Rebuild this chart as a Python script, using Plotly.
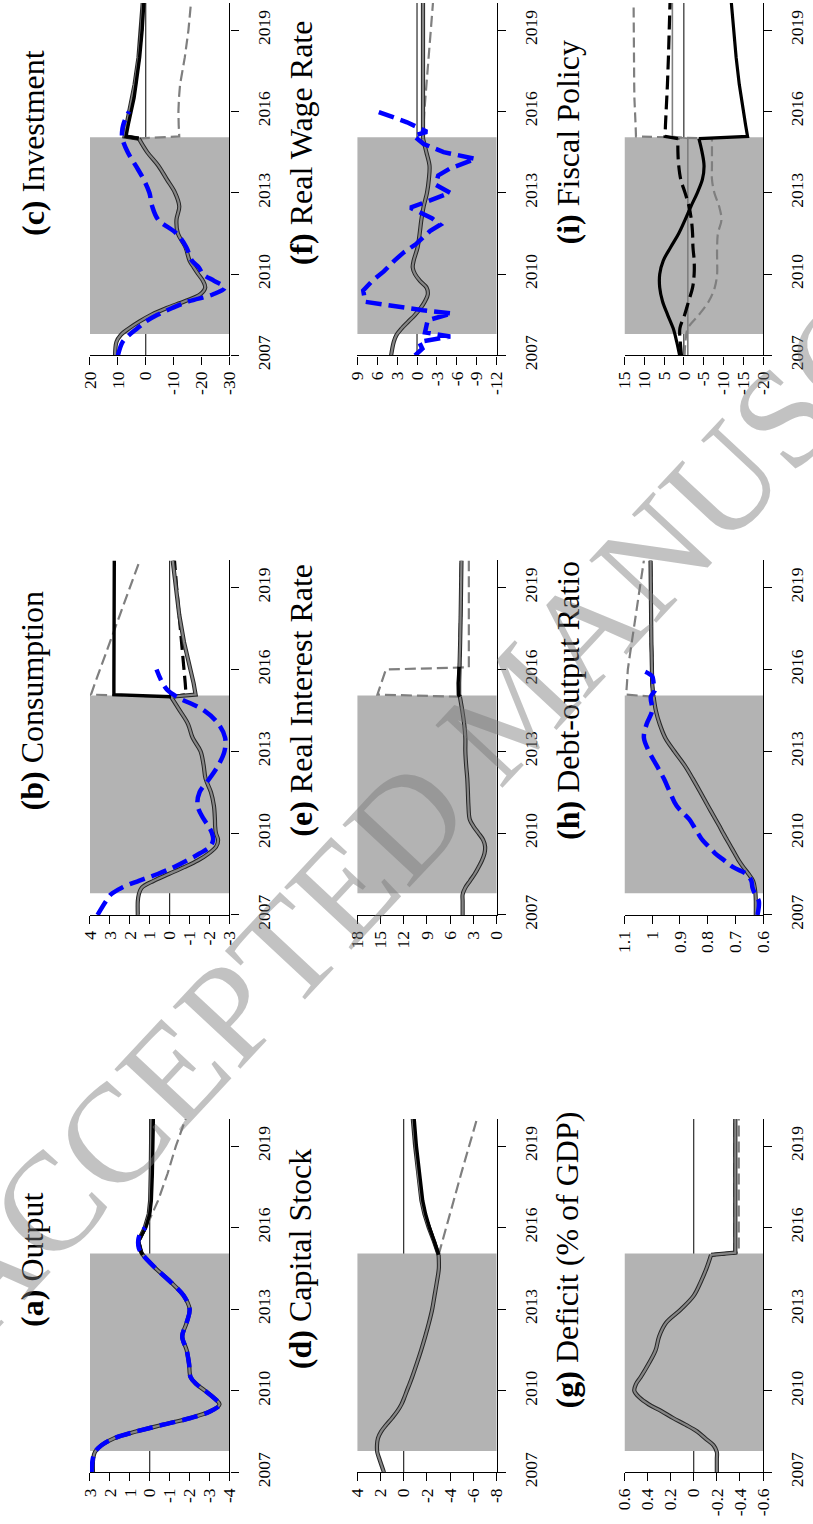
import plotly.graph_objects as go

W, H = 813, 1524

# ---------------- time grids (years) ----------------
t_hist = [2007.0, 2007.5, 2007.75, 2008.0, 2008.25, 2008.5, 2008.75, 2009.0, 2009.25, 2009.5,
          2009.75, 2010.0, 2010.25, 2010.5, 2011.0, 2011.5, 2012.0, 2012.5, 2013.0, 2013.5,
          2014.0, 2014.5, 2015.0]
t_data = t_hist + [2015.25, 2015.5, 2015.75, 2016.0]
t_post = [2015.0, 2015.08, 2015.5, 2016.0, 2016.5, 2017.0, 2018.0, 2019.0, 2020.0]
t_fiscal = [2007.0, 2007.5, 2008.0, 2008.5, 2009.0, 2009.5, 2010.0, 2010.5, 2011.0, 2011.5,
            2012.0, 2012.5, 2013.0, 2013.5, 2014.0, 2014.5, 2015.0]
shade_start, shade_end = 2007.79, 2015.05

# ---------------- (a) Output ----------------
a_base = [2.85, 2.84, 2.75, 2.42, 1.8, 0.7, -0.65, -2.05, -3.05, -3.5, -3.2, -2.78, -2.33, -2.05,
          -1.97, -1.85, -1.63, -1.85, -2.0, -1.7, -1.05, -0.3, 0.35]
a_data = [2.92, 2.86, 2.75, 2.42, 1.8, 0.7, -0.65, -2.05, -3.05, -3.52, -3.2, -2.78, -2.33, -2.05,
          -1.97, -1.85, -1.63, -1.85, -2.0, -1.7, -1.05, -0.3, 0.35, 0.55, 0.58, 0.5, 0.22]
a_base_post = [0.35, 0.42, 0.58, 0.25, 0.05, -0.02, -0.05, -0.07, -0.08]
a_blk = [0.35, 0.42, 0.57, 0.2, 0.0, -0.08, -0.13, -0.16, -0.18]
a_bdash = [0.35, 0.42, 0.57, 0.22, 0.02, -0.05, -0.1, -0.13, -0.15]
a_gdash = [0.35, 0.42, 0.5, 0.18, -0.12, -0.42, -0.9, -1.31, -1.8]

# ---------------- (b) Consumption ----------------
b_base = [1.6, 1.6, 1.55, 1.4, 0.8, 0.05, -0.72, -1.42, -1.95, -2.33, -2.43, -2.32, -2.28, -2.27,
          -2.22, -2.07, -1.8, -1.7, -1.55, -1.15, -0.92, -0.5, -0.07]
b_data = [3.62, 3.2, 2.95, 2.4, 1.55, 0.6, -0.2, -0.88, -1.5, -2.02, -2.18, -2.12, -1.95, -1.72,
          -1.4, -1.5, -2.0, -2.45, -2.75, -2.78, -2.45, -1.72, -0.35, 0.12, 0.36, 0.52, 0.66]
b_base_post = [-0.07, -1.3, -1.2, -1.05, -0.88, -0.72, -0.48, -0.31, -0.15]
b_blk = [-0.07, 2.8, 2.8, 2.8, 2.8, 2.79, 2.79, 2.78, 2.78]
b_bdash = [-0.07, -0.82, -0.78, -0.72, -0.64, -0.56, -0.44, -0.35, -0.24]
b_gdash = [-0.07, 3.95, 3.75, 3.5, 3.25, 3.0, 2.48, 1.98, 1.5]

# ---------------- (c) Investment ----------------
c_base = [11.0, 10.5, 9.0, 6.0, 2.3, -2.0, -7.5, -14.0, -19.5, -21.3, -20.5, -18.8, -17.2, -15.7,
          -14.2, -11.5, -11.0, -12.0, -10.5, -7.5, -4.5, -0.5, 2.5]
c_data = [10.0, 8.3, 6.0, 3.0, 0.0, -4.2, -9.5, -15.5, -24.0, -28.3, -24.5, -20.5, -19.0, -16.5,
          -14.5, -11.0, -4.5, -2.3, -1.3, 0.8, 3.6, 6.5, 8.4, 8.5, 8.1, 7.2, 6.0]
c_base_post = [2.5, 7.6, 6.9, 5.9, 4.9, 4.0, 2.6, 1.7, 1.1]
c_blk = [2.5, 7.1, 6.3, 5.2, 4.2, 3.5, 2.2, 1.3, 0.7]
c_bdash = [2.5, 7.2, 6.5, 5.5, 4.5, 3.7, 2.4, 1.5, 0.9]
c_gdash = [2.5, -12.0, -11.8, -11.7, -11.9, -12.3, -14.0, -15.3, -16.2]

# ---------------- (d) Capital Stock ----------------
d_base = [1.7, 2.1, 2.28, 2.3, 2.22, 1.95, 1.5, 1.0, 0.55, 0.2, -0.05, -0.27, -0.5, -0.72,
          -1.12, -1.5, -1.85, -2.17, -2.45, -2.65, -2.85, -3.02, -3.0]
d_base_post = [-3.0, -2.95, -2.6, -2.15, -1.78, -1.52, -1.22, -0.98, -0.78]
d_blk = [-3.0, -2.95, -2.63, -2.22, -1.88, -1.63, -1.33, -1.09, -0.9]
d_bdash = [-3.0, -2.95, -2.61, -2.18, -1.82, -1.56, -1.26, -1.02, -0.84]
d_gdash = [-3.0, -3.05, -3.3, -3.63, -3.97, -4.3, -4.95, -5.6, -6.3]

# ---------------- (e) Real Interest Rate ----------------
e_base = [4.4, 4.4, 4.4, 4.05, 3.45, 2.85, 2.35, 1.9, 1.58, 1.5, 1.75, 2.36, 3.0, 3.48,
          3.65, 3.72, 3.8, 3.95, 4.05, 4.05, 4.2, 4.45, 4.75]
e_base_post = [4.75, 4.85, 4.85, 4.85, 4.78, 4.72, 4.65, 4.58, 4.55]
e_blk_t = [2015.0, 2015.08, 2015.5, 2016.0, 2016.1]
e_blk = [4.75, 4.95, 4.98, 4.95, 4.85]
e_bdash = [4.75, 4.85, 4.85, 4.85, 4.78, 4.72, 4.65, 4.58, 4.55]
e_gdash_t = [2015.0, 2015.08, 2016.0, 2016.08, 2020.0]
e_gdash = [4.75, 15.4, 14.3, 3.6, 3.6]

# ---------------- (f) Real Wage Rate ----------------
f_base = [3.9, 3.5, 3.1, 2.3, 1.3, 0.3, -0.55, -1.2, -1.62, -1.45, -0.45, 0.3, 0.65, 0.5,
          -0.1, -0.4, -0.65, -1.0, -1.5, -1.78, -1.88, -1.4, -0.9]
f_data_t = [2007.0, 2007.25, 2007.5, 2007.7, 2007.85, 2008.1, 2008.3, 2008.55, 2008.67, 2008.98,
            2009.4, 2009.76, 2010.1, 2010.5, 2010.8, 2011.1, 2011.4, 2011.6, 2011.82, 2012.05,
            2012.45, 2013.0, 2013.3, 2013.64, 2013.9, 2014.25, 2014.5, 2014.8, 2015.1, 2015.25,
            2015.6, 2016.0]
f_data = [0.3, -0.8, -0.3, -5.0, -1.2, -1.4, -1.6, -5.3, -0.9, 7.8, 8.1, 6.7, 5.0, 3.4, 2.0,
          0.2, -1.0, -2.0, -3.5, -2.3, 1.0, -5.0, -2.8, -3.2, -5.0, -8.8, -4.0, -1.0, 0.5, -1.5,
          1.5, 6.0]
f_base_post = [-0.9, -0.9, -0.92, -0.93, -0.92, -0.92, -0.9, -0.9, -0.9]
f_blk = [-0.9, -0.9, -0.92, -0.93, -0.92, -0.92, -0.9, -0.9, -0.9]
f_bdash = [-0.9, -0.9, -0.92, -0.93, -0.92, -0.92, -0.9, -0.9, -0.9]
f_gdash = [-0.9, -0.9, -1.0, -1.1, -1.25, -1.4, -1.7, -2.0, -2.4]

# ---------------- (g) Deficit (% of GDP) ----------------
g_base = [-0.2, -0.2, -0.2, -0.17, -0.1, -0.03, 0.07, 0.18, 0.28, 0.39, 0.47, 0.515, 0.5, 0.46,
          0.39, 0.33, 0.3, 0.24, 0.11, 0.0, -0.06, -0.11, -0.15]
g_base_post = [-0.15, -0.36, -0.36, -0.36, -0.36, -0.36, -0.36, -0.36, -0.36]
g_blk = [-0.15, -0.36, -0.36, -0.36, -0.36, -0.36, -0.36, -0.36, -0.36]
g_bdash = [-0.15, -0.36, -0.36, -0.36, -0.36, -0.36, -0.36, -0.36, -0.36]
g_gdash = [-0.15, -0.39, -0.39, -0.39, -0.39, -0.39, -0.39, -0.39, -0.39]

# ---------------- (h) Debt-output Ratio ----------------
h_base = [0.626, 0.626, 0.627, 0.63, 0.636, 0.652, 0.671, 0.688, 0.702, 0.716, 0.73, 0.744,
          0.757, 0.771, 0.799, 0.826, 0.854, 0.884, 0.92, 0.953, 0.973, 0.987, 0.995]
h_data = [0.62, 0.615, 0.628, 0.638, 0.642, 0.66, 0.708, 0.74, 0.772, 0.795, 0.819, 0.835,
          0.85, 0.866, 0.912, 0.936, 0.958, 0.985, 1.012, 1.03, 1.02, 1.0, 1.005, 0.99, 0.995,
          1.0, 1.044]
h_base_post = [0.995, 0.997, 1.0, 1.0, 1.002, 1.003, 1.004, 1.005, 1.006]
h_blk = [0.995, 0.997, 1.0, 1.0, 1.002, 1.003, 1.004, 1.005, 1.006]
h_bdash = [0.995, 0.997, 1.0, 1.0, 1.002, 1.003, 1.004, 1.005, 1.006]
h_gdash = [0.995, 1.094, 1.091, 1.088, 1.081, 1.074, 1.059, 1.045, 1.03]

# ---------------- (i) Fiscal Policy ----------------
i_blk = [1.07, 1.8, 2.7, 4.1, 5.4, 6.1, 6.1, 5.2, 3.3, 1.3, -0.3, -1.8, -3.4, -4.7, -5.1, -4.6, -3.8]
i_blk_post = [-3.8, -16.1, -15.6, -15.0, -14.5, -14.0, -13.2, -12.5, -12.0]
i_bdash = [0.6, 0.9, 1.0, -0.2, -1.2, -2.2, -2.6, -2.6, -2.3, -2.2, -1.9, -1.3, -0.3, 0.8, 1.3, 1.5, 1.5]
i_bdash_post = [1.5, 4.75, 4.65, 4.45, 4.3, 4.15, 3.9, 3.7, 3.5]
i_gdash = [-0.2, -0.4, -1.0, -3.8, -6.3, -7.8, -8.4, -8.4, -8.4, -8.6, -9.5, -8.9, -7.7, -7.1, -7.1, -7.1, -7.1]
i_gdash_post = [-7.1, 12.1, 12.2, 12.4, 12.5, 12.55, 12.6, 12.65, 12.7]
i_gray = [-1.0, -1.0, -1.0, -1.0, -1.0, -1.0, -1.0, -1.0, -1.0, -1.0, -1.0, -1.0, -1.0, -1.0, -1.0, -1.0, -1.0]
i_gray_post = [-1.0, 2.9, 2.9, 2.9, 2.9, 2.9, 2.9, 2.9, 2.9]

# ---------------- tick labels ----------------
year_ticks = [2007, 2010, 2013, 2016, 2019]
a_ticks = [3, 2, 1, 0, -1, -2, -3, -4]
b_ticks = [4, 3, 2, 1, 0, -1, -2, -3]
c_ticks = [20, 10, 0, -10, -20, -30]
d_ticks = [4, 2, 0, -2, -4, -6, -8]
e_ticks = [18, 15, 12, 9, 6, 3, 0]
f_ticks = [9, 6, 3, 0, -3, -6, -9, -12]
g_ticks = [0.6, 0.4, 0.2, 0, -0.2, -0.4, -0.6]
g_ticktext = ["0.6", "0.4", "0.2", "0", "-0.2", "-0.4", "-0.6"]
h_ticks = [1.1, 1.0, 0.9, 0.8, 0.7, 0.6]
h_ticktext = ["1.1", "1", "0.9", "0.8", "0.7", "0.6"]
i_ticks = [15, 10, 5, 0, -5, -10, -15, -20]

# ---------------- layout geometry (pixels) ----------------
col_x = [(82, 225), (356, 499), (630, 772)]
row_y = [(3, 359), (566, 924), (1130, 1487)]
title_x = [23, 298, 572]
title_y = [144, 707, 1272]

SERIF = "Liberation Serif"
BLUE = "#0000ff"
GRAY = "#7f7f7f"
TICK_SIZE = 17.5

panels = [
    # n, label, title, col, row, ticks, ticktext, zero line
    (1, "a", "Output", 0, 2, a_ticks, None, True),
    (2, "b", "Consumption", 0, 1, b_ticks, None, True),
    (3, "c", "Investment", 0, 0, c_ticks, None, True),
    (4, "d", "Capital Stock", 1, 2, d_ticks, None, True),
    (5, "e", "Real Interest Rate", 1, 1, e_ticks, None, False),
    (6, "f", "Real Wage Rate", 1, 0, f_ticks, None, True),
    (7, "g", "Deficit (% of GDP)", 2, 2, g_ticks, g_ticktext, True),
    (8, "h", "Debt-output Ratio", 2, 1, h_ticks, h_ticktext, False),
    (9, "i", "Fiscal Policy", 2, 0, i_ticks, None, True),
]

series = {
    "a": dict(base=a_base, base_post=a_base_post, blk=(t_post, a_blk), bdash=a_bdash, gdash=(t_post, a_gdash), data=(t_data, a_data), blk_top=True),
    "b": dict(base=b_base, base_post=b_base_post, blk=(t_post, b_blk), bdash=b_bdash, gdash=(t_post, b_gdash), data=(t_data, b_data), blk_top=True),
    "c": dict(base=c_base, base_post=c_base_post, blk=(t_post, c_blk), bdash=c_bdash, gdash=(t_post, c_gdash), data=(t_data, c_data), blk_top=True),
    "d": dict(base=d_base, base_post=d_base_post, blk=(t_post, d_blk), bdash=d_bdash, gdash=(t_post, d_gdash), data=None, blk_top=True),
    "e": dict(base=e_base, base_post=e_base_post, blk=(e_blk_t, e_blk), bdash=e_bdash, gdash=(e_gdash_t, e_gdash), data=None, blk_top=True),
    "f": dict(base=f_base, base_post=f_base_post, blk=(t_post, f_blk), bdash=f_bdash, gdash=(t_post, f_gdash), data=(f_data_t, f_data), blk_top=False),
    "g": dict(base=g_base, base_post=g_base_post, blk=(t_post, g_blk), bdash=g_bdash, gdash=(t_post, g_gdash), data=None, blk_top=False),
    "h": dict(base=h_base, base_post=h_base_post, blk=(t_post, h_blk), bdash=h_bdash, gdash=(t_post, h_gdash), data=(t_data, h_data), blk_top=False),
}

fig = go.Figure()


def line(n, t, v, color, width, dash="solid", shape="linear"):
    fig.add_trace(go.Scatter(
        x=v, y=t, mode="lines", xaxis=f"x{n}", yaxis=f"y{n}",
        line=dict(color=color, width=width, dash=dash, shape=shape),
        showlegend=False, hoverinfo="skip"))


layout = dict(
    width=W, height=H, margin=dict(l=0, r=0, t=0, b=0),
    paper_bgcolor="white", plot_bgcolor="rgba(0,0,0,0)",
    showlegend=False, shapes=[], annotations=[],
)

for n, key, title, col, row, ticks, ticktext, zero in panels:
    x0, x1 = col_x[col]
    y0, y1 = row_y[row]
    hi, lo = ticks[0], ticks[-1]
    ax = "" if n == 1 else str(n)
    layout[f"xaxis{ax}"] = dict(
        domain=[x0 / W, x1 / W], range=[hi, lo], anchor=f"y{n}",
        tickmode="array", tickvals=ticks,
        ticktext=ticktext if ticktext else [str(v) for v in ticks],
        tickangle=-90, ticks="outside", ticklen=8, tickwidth=1.2, tickcolor="black",
        showline=True, linecolor="black", linewidth=1.2, showgrid=False, zeroline=False,
        tickfont=dict(family=SERIF, size=TICK_SIZE, color="black"), fixedrange=True,
    )
    layout[f"yaxis{ax}"] = dict(
        domain=[1 - y1 / H, 1 - y0 / H], range=[2007, 2020], anchor=f"x{n}", side="right",
        tickmode="array", tickvals=year_ticks, ticktext=[str(y) for y in year_ticks],
        tickangle=-90, ticks="outside", ticklen=8, tickwidth=1.2, tickcolor="black",
        showline=True, linecolor="black", linewidth=1.2, showgrid=False, zeroline=False,
        tickfont=dict(family=SERIF, size=TICK_SIZE, color="black"), ticklabelstandoff=10,
        fixedrange=True,
    )
    if zero:
        layout["shapes"].append(dict(
            type="line", xref=f"x{n}", yref=f"y{n}", x0=0, x1=0, y0=2007, y1=2020,
            line=dict(color="black", width=1), layer="below"))
    layout["shapes"].append(dict(
        type="rect", xref=f"x{n}", yref=f"y{n}", x0=hi, x1=lo, y0=shade_start, y1=shade_end,
        fillcolor="#b3b3b3", line=dict(width=0), layer="below"))
    layout["annotations"].append(dict(
        xref="paper", yref="paper", x=title_x[col] / W, y=1 - title_y[row] / H,
        text=f"<b>({key})</b> {title}", showarrow=False, textangle=-90,
        xanchor="center", yanchor="middle",
        font=dict(family=SERIF, size=32, color="black")))

    if key == "i":
        line(n, t_fiscal, i_gray, GRAY, 1.6, shape="spline")
        line(n, t_post, i_gray_post, GRAY, 1.6)
        line(n, t_fiscal, i_gdash, GRAY, 2.2, dash="10px,5px", shape="spline")
        line(n, t_post, i_gdash_post, GRAY, 2.2, dash="10px,5px")
        line(n, t_fiscal, i_bdash, "black", 3.2, dash="14px,6px", shape="spline")
        line(n, t_post, i_bdash_post, "black", 3.2, dash="14px,6px")
        line(n, t_fiscal, i_blk, "black", 3.2, shape="spline")
        line(n, t_post, i_blk_post, "black", 3.2)
        continue

    s = series[key]
    gt, gv = s["gdash"]
    bt, bv = s["blk"]
    line(n, gt, gv, GRAY, 2.2, dash="11px,5px")
    line(n, t_post, s["bdash"], "black", 3.2, dash="14px,6px")
    if not s["blk_top"]:
        line(n, bt, bv, "black", 3.2)
    # gray "double" line: dark outline + gray core
    line(n, t_hist, s["base"], "#262626", 4.2, shape="spline")
    line(n, t_post, s["base_post"], "#262626", 4.2)
    line(n, t_hist, s["base"], "#858585", 2.2, shape="spline")
    line(n, t_post, s["base_post"], "#858585", 2.2)
    if s["blk_top"]:
        line(n, bt, bv, "black", 3.4)
    if s["data"] is not None:
        dt, dv = s["data"]
        line(n, dt, dv, BLUE, 4.5, dash="16px,7px",
             shape="linear" if key == "f" else "spline")

# watermark
layout["annotations"].append(dict(
    xref="paper", yref="paper", x=517 / W, y=1 - 713 / H, text="ACCEPTED MANUSCRIPT",
    showarrow=False, textangle=-47, xanchor="center", yanchor="middle",
    font=dict(family=SERIF, size=140, color="rgba(120,120,120,0.45)")))

fig.update_layout(**layout)
fig.write_html("out.html")
